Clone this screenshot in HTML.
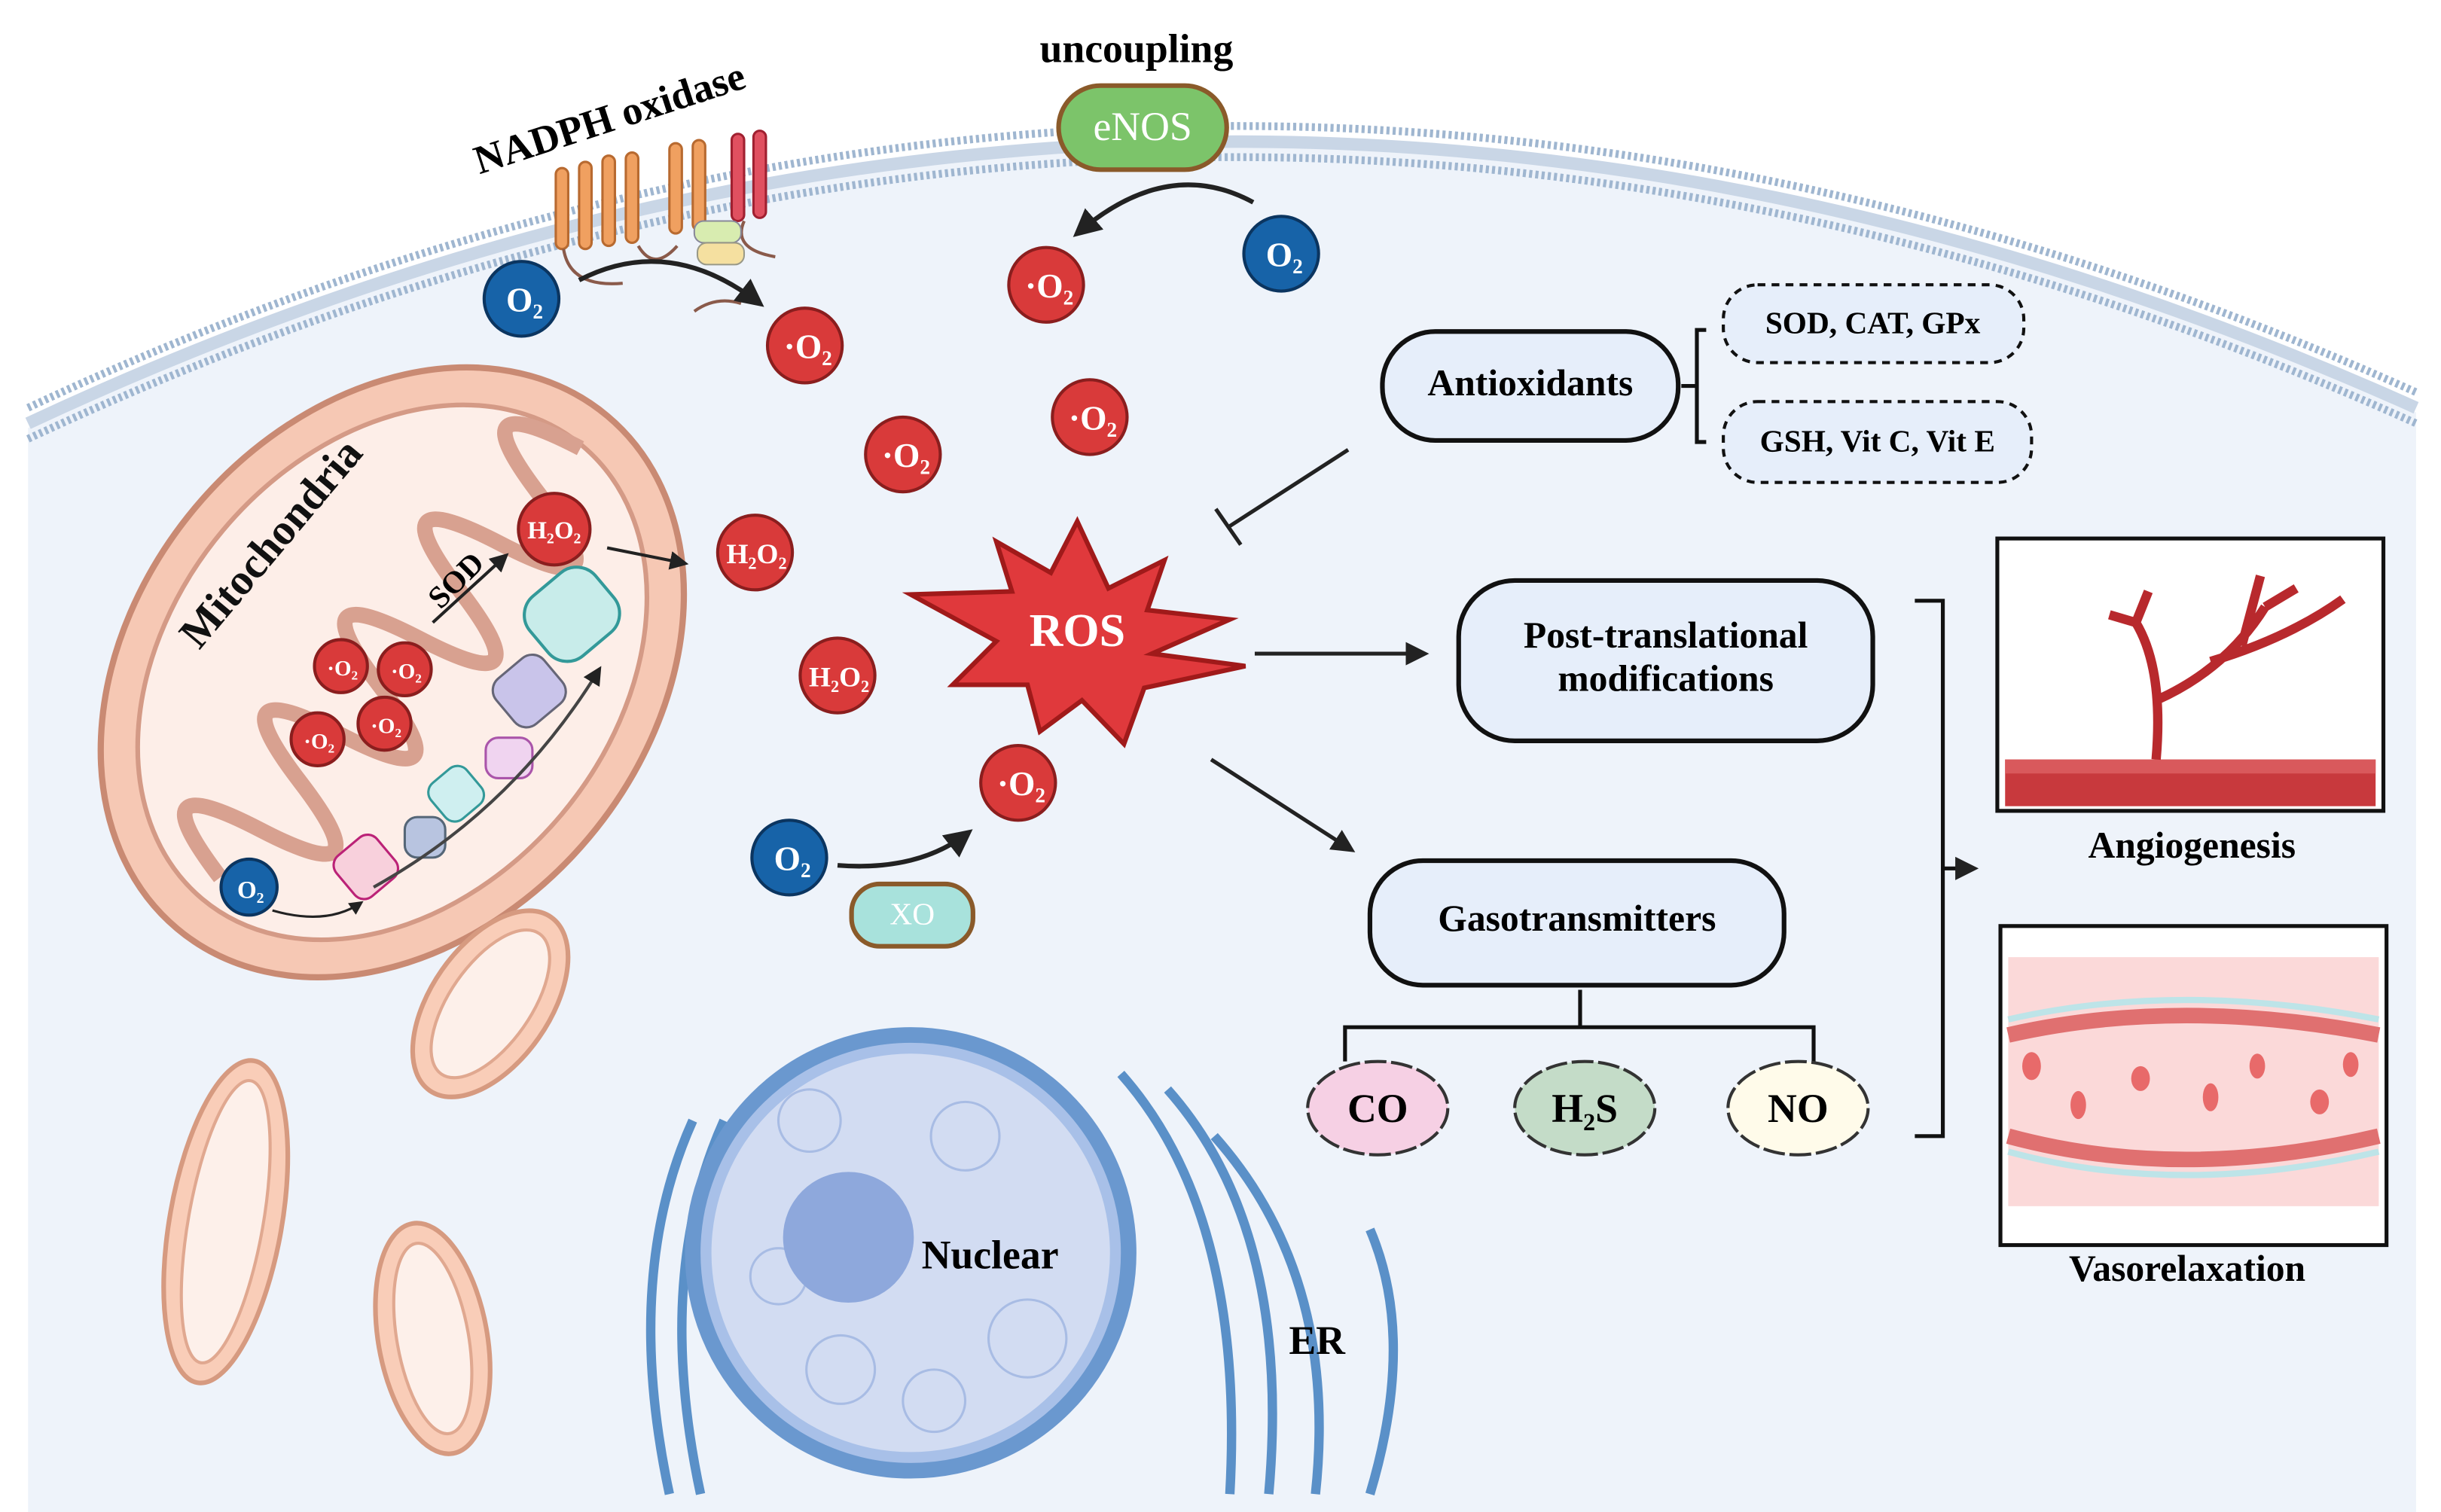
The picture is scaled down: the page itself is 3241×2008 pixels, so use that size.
<!DOCTYPE html>
<html><head><meta charset="utf-8"><style>
html,body{margin:0;padding:0;background:#fff}
svg{display:block}
text{font-family:"Liberation Serif",serif;font-weight:bold}
</style></head><body>
<svg width="3241" height="2008" viewBox="0 0 1568 971.5" preserveAspectRatio="none" xmlns="http://www.w3.org/2000/svg">
<defs>
<marker id="ah" viewBox="0 0 10 10" refX="8" refY="5" markerWidth="6" markerHeight="6" orient="auto"><path d="M0,0 L10,5 L0,10z" fill="#222"/></marker>
</defs>
<path d="M18,275 Q780,-80 1552,265 L1552,971.5 L18,971.5Z" fill="#eef3fa"/>
<path d="M18,262 Q780,-95 1552,252" fill="none" stroke="#9fb6d0" stroke-width="5" stroke-dasharray="2 2"/>
<path d="M18,282 Q780,-75 1552,272" fill="none" stroke="#9fb6d0" stroke-width="5" stroke-dasharray="2 2"/>
<path d="M18,272 Q780,-85 1552,262" fill="none" stroke="#c9d6e6" stroke-width="8"/>
<g transform="rotate(-50 252 432)">
<ellipse cx="252" cy="432" rx="215" ry="165" fill="#f6c8b4" stroke="#c98a73" stroke-width="4"/>
<ellipse cx="252" cy="432" rx="190" ry="142" fill="#fdeee8" stroke="#d49a86" stroke-width="3"/>
<path d="M80,432 q20,-90 40,0 t40,0 t40,0 t40,0 t40,0 t40,0 t40,0 t40,0 t40,0" fill="none" stroke="#d8a190" stroke-width="10"/>
</g>
<text x="0" y="0" font-size="28" fill="#111" transform="translate(128,418) rotate(-50)">Mitochondria</text>
<g font-size="22" text-anchor="middle">
<g fill="#d93a3a" stroke="#8a1e1e" stroke-width="2">
<circle cx="517" cy="222" r="24"/><circle cx="672" cy="183" r="24"/><circle cx="700" cy="268" r="24"/>
<circle cx="580" cy="292" r="24"/><circle cx="485" cy="355" r="24"/><circle cx="538" cy="434" r="24"/>
<circle cx="654" cy="503" r="24"/><circle cx="356" cy="340" r="23"/>
<circle cx="219" cy="428" r="17"/><circle cx="260" cy="430" r="17"/><circle cx="204" cy="475" r="17"/><circle cx="247" cy="465" r="17"/>
</g>
<g fill="#1763a8" stroke="#0b3560" stroke-width="2">
<circle cx="335" cy="192" r="24"/><circle cx="823" cy="163" r="24"/><circle cx="507" cy="551" r="24"/><circle cx="160" cy="570" r="18"/>
</g>
<g fill="#fff">
<text x="519" y="230">·O₂</text><text x="674" y="191">·O₂</text><text x="702" y="276">·O₂</text><text x="582" y="300">·O₂</text>
<text x="656" y="511">·O₂</text><text x="486" y="362" font-size="18">H₂O₂</text><text x="539" y="441" font-size="18">H₂O₂</text>
<text x="356" y="346" font-size="16">H₂O₂</text>
<text x="337" y="200">O₂</text><text x="825" y="171">O₂</text><text x="509" y="559">O₂</text><text x="161" y="577" font-size="16">O₂</text>
<text x="220" y="434" font-size="14">·O₂</text><text x="261" y="436" font-size="14">·O₂</text><text x="205" y="481" font-size="14">·O₂</text><text x="248" y="471" font-size="14">·O₂</text>
</g>
</g>
<rect x="218" y="540" width="34" height="34" rx="8" fill="#f8d0dc" stroke="#b27" stroke-width="1.5" transform="rotate(-40 235 557)"/>
<rect x="260" y="525" width="26" height="26" rx="8" fill="#b8c4e0" stroke="#567" stroke-width="1.5"/>
<rect x="278" y="495" width="30" height="30" rx="8" fill="#cfeff0" stroke="#399" stroke-width="1.5" transform="rotate(-40 293 510)"/>
<rect x="312" y="474" width="30" height="26" rx="8" fill="#f0d4f0" stroke="#a5a" stroke-width="1.5"/>
<rect x="320" y="425" width="40" height="38" rx="10" fill="#c9c4ea" stroke="#667" stroke-width="1.5" transform="rotate(-40 340 444)"/>
<rect x="340" y="370" width="55" height="50" rx="16" fill="#c8ecea" stroke="#399" stroke-width="2" transform="rotate(-40 367 395)"/>
<path d="M175,585 Q210,595 232,580" fill="none" stroke="#222" stroke-width="1.5" marker-end="url(#ah)"/>
<path d="M240,570 Q330,520 385,430" fill="none" stroke="#444" stroke-width="2" marker-end="url(#ah)"/>
<path d="M278,400 L325,357" stroke="#222" stroke-width="2" marker-end="url(#ah)"/>
<text x="0" y="0" font-size="20" transform="translate(283,392) rotate(-45)">SOD</text>
<path d="M390,352 L440,362" stroke="#222" stroke-width="2" marker-end="url(#ah)"/>
<text x="0" y="0" font-size="26" transform="translate(308,112) rotate(-18)">NADPH oxidase</text>
<g fill="#f0a060" stroke="#b86a30" stroke-width="1.5">
<rect x="357" y="108" width="8" height="52" rx="4"/><rect x="372" y="104" width="8" height="56" rx="4"/><rect x="387" y="100" width="8" height="58" rx="4"/><rect x="402" y="98" width="8" height="58" rx="4"/>
<rect x="430" y="92" width="8" height="58" rx="4"/><rect x="445" y="90" width="8" height="58" rx="4"/>
</g>
<g fill="#e05060" stroke="#a02030" stroke-width="1.5"><rect x="470" y="86" width="8" height="56" rx="4"/><rect x="484" y="84" width="8" height="56" rx="4"/></g>
<path d="M362,160 Q366,185 400,182 M410,158 Q420,175 435,158 M478,142 Q470,160 498,165 M446,200 Q460,190 476,195" fill="none" stroke="#8a5a4a" stroke-width="2"/>
<rect x="446" y="142" width="30" height="14" rx="6" fill="#d8ecb0" stroke="#889"/><rect x="448" y="156" width="30" height="14" rx="6" fill="#f5e0a0" stroke="#998"/>
<path d="M372,180 Q430,150 488,195" fill="none" stroke="#222" stroke-width="3" marker-end="url(#ah)"/>
<text x="730" y="40" font-size="26" text-anchor="middle">uncoupling</text>
<rect x="680" y="55" width="108" height="54" rx="27" fill="#7cc46a" stroke="#8a5a2a" stroke-width="3"/>
<text x="734" y="90" font-size="26" fill="#fff" text-anchor="middle" style="font-weight:normal">eNOS</text>
<path d="M805,130 Q750,100 692,150" fill="none" stroke="#222" stroke-width="3" marker-end="url(#ah)"/>
<path d="M538,556 Q590,560 622,535" fill="none" stroke="#222" stroke-width="3" marker-end="url(#ah)"/>
<rect x="547" y="568" width="78" height="40" rx="18" fill="#a8e2dc" stroke="#8a5a2a" stroke-width="3"/>
<text x="586" y="594" font-size="20" fill="#fff" text-anchor="middle" style="font-weight:normal">XO</text>
<path d="M692,335 L712,378 L748,360 L737,392 L790,398 L740,420 L800,428 L735,442 L722,478 L695,450 L668,470 L660,440 L612,440 L640,412 L585,382 L650,380 L640,348 L675,368Z" fill="#e0393c" stroke="#a01a1a" stroke-width="3"/>
<text x="692" y="415" font-size="30" fill="#fff" text-anchor="middle">ROS</text>
<rect x="888" y="213" width="190" height="70" rx="34" fill="#e6eefa" stroke="#111" stroke-width="3"/>
<text x="983" y="254" font-size="24" text-anchor="middle">Antioxidants</text>
<path d="M1080,248 H1090 M1096,212 H1090 V284 H1096" fill="none" stroke="#111" stroke-width="2.5"/>
<rect x="1107" y="183" width="193" height="50" rx="22" fill="#e6eefa" stroke="#111" stroke-width="2" stroke-dasharray="5 4"/>
<text x="1203" y="214" font-size="20" text-anchor="middle">SOD, CAT, GPx</text>
<rect x="1107" y="258" width="198" height="52" rx="22" fill="#e6eefa" stroke="#111" stroke-width="2" stroke-dasharray="5 4"/>
<text x="1206" y="290" font-size="20" text-anchor="middle">GSH, Vit C, Vit E</text>
<path d="M866,289 L790,338 M781,327 L797,350" stroke="#222" stroke-width="2.5"/>
<path d="M806,420 L915,420" stroke="#222" stroke-width="2.5" marker-end="url(#ah)"/>
<rect x="937" y="373" width="266" height="103" rx="36" fill="#e6eefa" stroke="#111" stroke-width="3"/>
<text x="1070" y="416" font-size="24" text-anchor="middle">Post-translational</text>
<text x="1070" y="444" font-size="24" text-anchor="middle">modifications</text>
<path d="M778,488 L868,546" stroke="#222" stroke-width="2.5" marker-end="url(#ah)"/>
<rect x="880" y="553" width="266" height="80" rx="34" fill="#e6eefa" stroke="#111" stroke-width="3"/>
<text x="1013" y="598" font-size="24" text-anchor="middle">Gasotransmitters</text>
<path d="M1015,636 V660 M864,682 V660 H1165 V682" fill="none" stroke="#111" stroke-width="2.5"/>
<g stroke="#333" stroke-width="2" stroke-dasharray="14 3">
<ellipse cx="885" cy="712" rx="45" ry="30" fill="#f6d0e4"/>
<ellipse cx="1018" cy="712" rx="45" ry="30" fill="#c4dcc8"/>
<ellipse cx="1155" cy="712" rx="45" ry="30" fill="#fffbea"/>
</g>
<text x="885" y="721" font-size="26" text-anchor="middle">CO</text>
<text x="1018" y="721" font-size="26" text-anchor="middle">H₂S</text>
<text x="1155" y="721" font-size="26" text-anchor="middle">NO</text>
<path d="M1230,386 H1248 V730 H1230" fill="none" stroke="#111" stroke-width="2.5"/>
<path d="M1248,558 H1268" stroke="#111" stroke-width="2.5" marker-end="url(#ah)"/>
<rect x="1283" y="346" width="248" height="175" fill="#fff" stroke="#111" stroke-width="2.5"/>
<rect x="1288" y="488" width="238" height="30" fill="#c8393d"/>
<rect x="1288" y="488" width="238" height="9" fill="#d9595c"/>
<path d="M1385,488 Q1390,430 1372,400 M1385,450 Q1430,430 1455,390 M1420,425 Q1470,410 1505,385 M1440,415 L1452,370 M1372,400 L1355,395 M1455,390 L1475,378 M1372,400 L1380,380" fill="none" stroke="#b8292d" stroke-width="6"/>
<text x="1408" y="551" font-size="24" text-anchor="middle">Angiogenesis</text>
<rect x="1285" y="595" width="248" height="205" fill="#fff" stroke="#111" stroke-width="2.5"/>
<rect x="1290" y="615" width="238" height="160" fill="#fbd9d9"/>
<path d="M1290,665 Q1400,640 1528,665 M1290,730 Q1400,760 1528,730" fill="none" stroke="#e07070" stroke-width="10"/>
<path d="M1290,655 Q1400,630 1528,655 M1290,740 Q1400,770 1528,740" fill="none" stroke="#bde4e8" stroke-width="4"/>
<g fill="#e86a6a"><ellipse cx="1305" cy="685" rx="6" ry="9"/><ellipse cx="1335" cy="710" rx="5" ry="9"/><ellipse cx="1375" cy="693" rx="6" ry="8"/><ellipse cx="1420" cy="705" rx="5" ry="9"/><ellipse cx="1450" cy="685" rx="5" ry="8"/><ellipse cx="1490" cy="708" rx="6" ry="8"/><ellipse cx="1510" cy="684" rx="5" ry="8"/></g>
<text x="1405" y="823" font-size="24" text-anchor="middle">Vasorelaxation</text>
<g fill="#f9cdb8" stroke="#d69a80" stroke-width="3">
<ellipse cx="315" cy="645" rx="38" ry="68" transform="rotate(35 315 645)"/>
<ellipse cx="145" cy="785" rx="36" ry="105" transform="rotate(10 145 785)"/>
<ellipse cx="278" cy="860" rx="35" ry="75" transform="rotate(-10 278 860)"/>
</g>
<g fill="#fdf0ea" stroke="#e0a890" stroke-width="2">
<ellipse cx="315" cy="645" rx="26" ry="55" transform="rotate(35 315 645)"/>
<ellipse cx="145" cy="785" rx="24" ry="92" transform="rotate(10 145 785)"/>
<ellipse cx="278" cy="860" rx="23" ry="62" transform="rotate(-10 278 860)"/>
</g>
<g fill="none" stroke="#5a90c8" stroke-width="6">
<path d="M430,960 Q400,820 445,720"/><path d="M450,960 Q420,820 465,720"/>
<path d="M720,690 Q800,780 790,960"/><path d="M750,700 Q830,790 815,960"/><path d="M780,730 Q860,820 845,960"/>
<path d="M880,790 Q910,860 880,960"/>
</g>
<circle cx="585" cy="805" r="140" fill="#a8c0e8" stroke="#6a98cf" stroke-width="10"/>
<circle cx="585" cy="805" r="128" fill="#d2dcf2"/>
<g fill="none" stroke="#a8bce4" stroke-width="1.5"><circle cx="520" cy="720" r="20"/><circle cx="620" cy="730" r="22"/><circle cx="660" cy="860" r="25"/><circle cx="540" cy="880" r="22"/><circle cx="500" cy="820" r="18"/><circle cx="600" cy="900" r="20"/></g>
<circle cx="545" cy="795" r="42" fill="#8ea8dc"/>
<text x="636" y="815" font-size="26" text-anchor="middle">Nuclear</text>
<text x="846" y="870" font-size="26" text-anchor="middle">ER</text>
</svg>
</body></html>
